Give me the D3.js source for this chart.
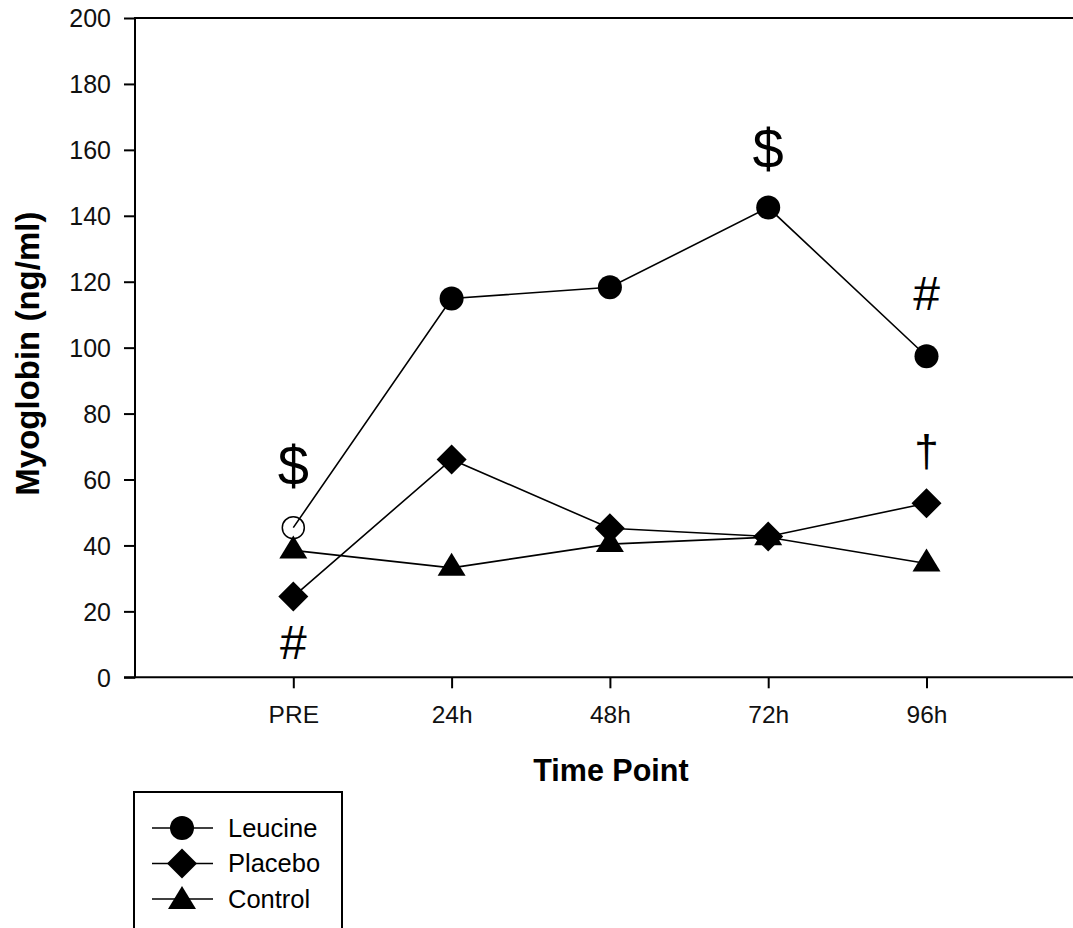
<!DOCTYPE html>
<html>
<head>
<meta charset="utf-8">
<script src="https://cdnjs.cloudflare.com/ajax/libs/d3/7.8.5/d3.min.js"></script>
<style>
  body { margin: 0; background: #fff; }
  svg { display: block; font-family: Arial, "Liberation Sans", sans-serif; }
</style>
</head>
<body>
<div id="chart"></div>
<script>
// data
const timePoints = ["PRE", "24h", "48h", "72h", "96h"];
const leucine = [45.4, 114.9, 118.3, 142.5, 97.4];
const placebo = [24.5, 66.1, 45.2, 42.7, 52.8];
const control = [38.5, 33.2, 40.4, 42.5, 34.5];
const yTicks = [0, 20, 40, 60, 80, 100, 120, 140, 160, 180, 200];
const seriesNames = ["Leucine", "Placebo", "Control"];

// significance marks: symbol, time point, baseline height in ng/ml
const markText = ["$", "#", "$", "#", "\u2020"];
const markPoint = ["PRE", "PRE", "72h", "96h", "96h"];
const markValue = [58.2, 5.7, 154.5, 111.4, 64.0];

let width = 1073, height = 928;
let margin = { top: 18, left: 135, bottom: 251 };

let svg = d3.select("#chart")
    .append("svg")
    .attr("width", width)
    .attr("height", height);

// x runs 0..6 with points at 1..5, the right edge falls outside the picture
let x = d3.scaleLinear().domain([0, 6]).range([margin.left, margin.left + 158.3 * 6]);
let y = d3.scaleLinear().domain([0, 200]).range([height - margin.bottom + 0.3, margin.top]);
let xPos = name => x(timePoints.indexOf(name) + 1);

// axes
let yAxis = d3.axisLeft(y).tickValues(yTicks).tickSize(11).tickPadding(13).tickSizeOuter(0);
let gy = svg.append("g").attr("transform", `translate(${margin.left},0)`).call(yAxis);
gy.select(".domain").remove();
gy.selectAll("line").attr("stroke", "#000").attr("stroke-width", 2);
gy.selectAll("text").attr("font-size", 25).attr("fill", "#111").attr("dy", "0.35em");

let xAxis = d3.axisBottom(x).tickValues([1, 2, 3, 4, 5])
    .tickFormat(d => timePoints[d - 1]).tickSize(11).tickPadding(17).tickSizeOuter(0);
let gx = svg.append("g").attr("transform", `translate(0,${y(0)})`).call(xAxis);
gx.select(".domain").remove();
gx.selectAll("line").attr("stroke", "#000").attr("stroke-width", 2);
gx.selectAll("text").attr("font-size", 24.5).attr("fill", "#111");

// frame: left, bottom, top
svg.append("line").attr("x1", margin.left).attr("x2", margin.left)
    .attr("y1", y(200) - 1).attr("y2", y(0) + 1).attr("stroke", "#000").attr("stroke-width", 2);
svg.append("line").attr("x1", margin.left - 11).attr("x2", width)
    .attr("y1", y(0)).attr("y2", y(0)).attr("stroke", "#000").attr("stroke-width", 2);
svg.append("line").attr("x1", margin.left).attr("x2", width)
    .attr("y1", y(200)).attr("y2", y(200)).attr("stroke", "#000").attr("stroke-width", 2);

// axis titles
svg.append("text")
    .attr("transform", `translate(39,${(y(0) + y(200)) / 2 + 6}) rotate(-90)`)
    .attr("text-anchor", "middle")
    .attr("font-size", 33).attr("font-weight", "bold")
    .text("Myoglobin (ng/ml)");

svg.append("text")
    .attr("x", x(3) + 1).attr("y", 781)
    .attr("text-anchor", "middle")
    .attr("font-size", 30.5).attr("font-weight", "bold")
    .text("Time Point");

// marker shapes
let circle = d3.symbol().type(d3.symbolCircle).size(Math.PI * 12 * 12);
let diamond = "M0,-15L15,0L0,15L-15,0Z";
let triangle = "M0,-15L14,8L-14,8Z";

let line = d3.line().x((d, i) => x(i + 1)).y(d => y(d));

[leucine, placebo, control].forEach(vals => {
    svg.append("path")
        .datum(vals)
        .attr("fill", "none")
        .attr("stroke", "#000")
        .attr("stroke-width", 1.6)
        .attr("d", line);
});

// control triangles
svg.selectAll(".tri").data(control).enter().append("path")
    .attr("d", triangle)
    .attr("transform", (d, i) => `translate(${x(i + 1)},${y(d)})`)
    .attr("fill", "#000");

// placebo diamonds
svg.selectAll(".dia").data(placebo).enter().append("path")
    .attr("d", diamond)
    .attr("transform", (d, i) => `translate(${x(i + 1)},${y(d)})`)
    .attr("fill", "#000");

// leucine circles, the PRE one is open
svg.selectAll(".cir").data(leucine).enter().append("path")
    .attr("d", (d, i) => i === 0 ? d3.symbol().type(d3.symbolCircle).size(Math.PI * 11 * 11)() : circle())
    .attr("transform", (d, i) => `translate(${x(i + 1)},${y(d)})`)
    .attr("fill", (d, i) => i === 0 ? "none" : "#000")
    .attr("stroke", "#000")
    .attr("stroke-width", (d, i) => i === 0 ? 1.5 : 0);

// significance marks
markText.forEach((t, i) => {
    svg.append("text")
        .attr("x", xPos(markPoint[i]))
        .attr("y", y(markValue[i]))
        .attr("text-anchor", "middle")
        .attr("font-size", t === "$" ? 56 : (t === "#" ? 48 : 44))
        .text(t);
});

// legend
let lg = svg.append("g").attr("transform", "translate(134,792)");
lg.append("rect").attr("width", 208).attr("height", 160)
    .attr("fill", "none").attr("stroke", "#000").attr("stroke-width", 2);

let legendShapes = [circle(), diamond, triangle];
seriesNames.forEach((name, i) => {
    let row = lg.append("g").attr("transform", `translate(0,${36 + i * 35.5})`);
    row.append("line").attr("x1", 18).attr("x2", 79)
        .attr("stroke", "#000").attr("stroke-width", 1.6);
    row.append("path").attr("d", legendShapes[i])
        .attr("transform", i === 2 ? "translate(48,2)" : "translate(48,0)")
        .attr("fill", "#000");
    row.append("text").attr("x", 94).attr("dy", "0.35em")
        .attr("font-size", 25.5).text(name);
});
</script>
</body>
</html>
